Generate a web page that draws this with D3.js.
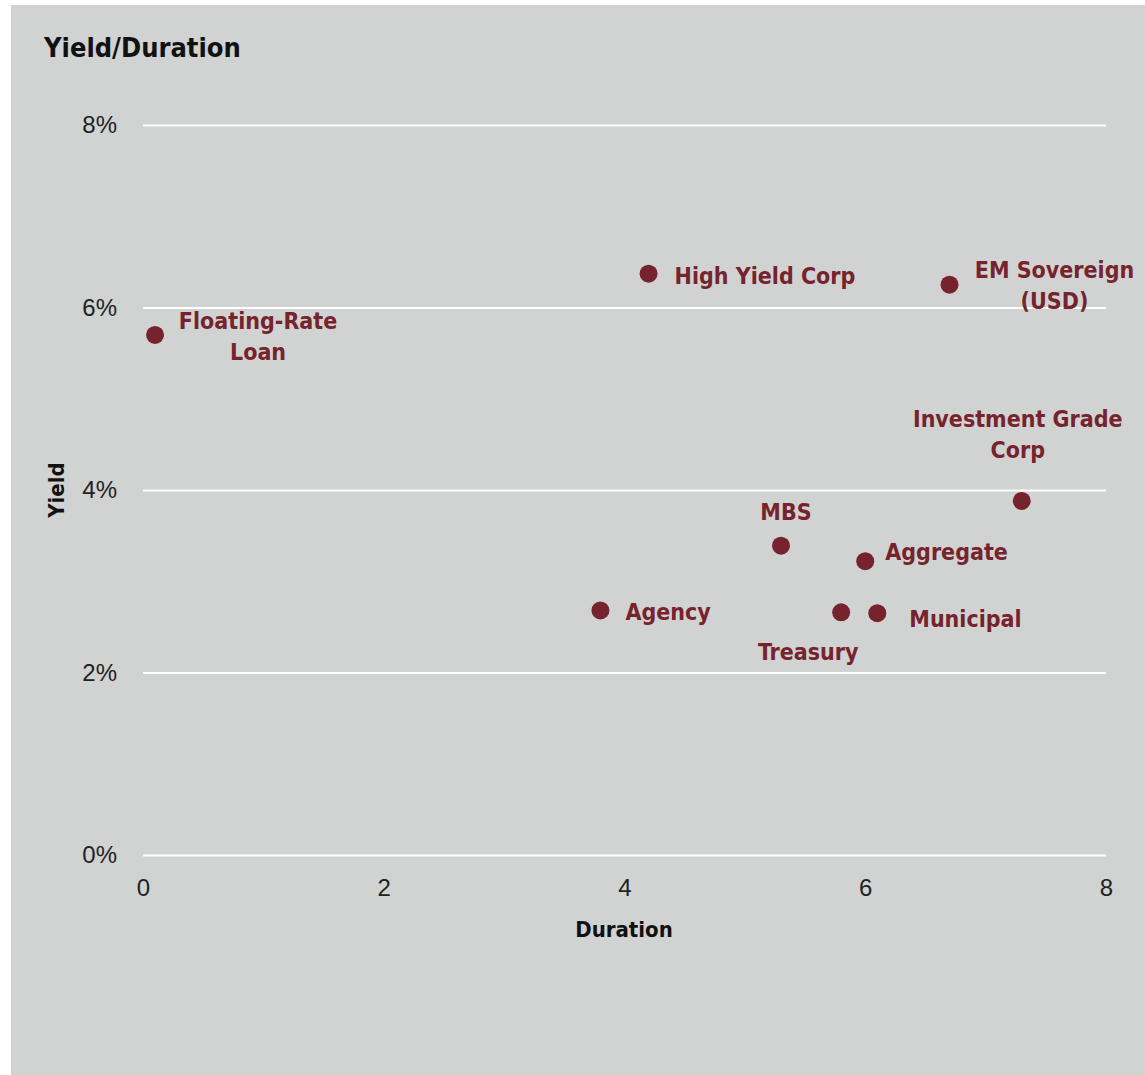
<!DOCTYPE html>
<html>
<head>
<meta charset="utf-8">
<script src="https://cdn.jsdelivr.net/npm/d3@7"></script>
<style>
  body { margin: 0; background: #fff; }
  svg { display: block; }
</style>
</head>
<body>
<svg id="chart"></svg>
<script>
// data
var names = ["Floating-Rate Loan", "High Yield Corp", "EM Sovereign (USD)", "Investment Grade Corp",
             "MBS", "Aggregate", "Agency", "Treasury", "Municipal"];
var duration = [0.1, 4.2, 6.7, 7.3, 5.3, 6.0, 3.8, 5.8, 6.1];
var yieldPct = [5.70, 6.37, 6.25, 3.88, 3.39, 3.22, 2.68, 2.66, 2.65];
var xTicks = [0, 2, 4, 6, 8];
var yTicks = [0, 2, 4, 6, 8];

// label placement: lines, offset from point, anchor
var labelPlace = [
  {lines: ["Floating-Rate", "Loan"], dx: 103, dy: -6, anchor: "middle"},
  {lines: ["High Yield Corp"], dx: 26, dy: 10, anchor: "start"},
  {lines: ["EM Sovereign", "(USD)"], dx: 105, dy: -7, anchor: "middle"},
  {lines: ["Investment Grade", "Corp"], dx: -4, dy: -74, anchor: "middle"},
  {lines: ["MBS"], dx: 5, dy: -26, anchor: "middle"},
  {lines: ["Aggregate"], dx: 20, dy: -1, anchor: "start"},
  {lines: ["Agency"], dx: 25, dy: 10, anchor: "start"},
  {lines: ["Treasury"], dx: -33, dy: 48, anchor: "middle"},
  {lines: ["Municipal"], dx: 32, dy: 14, anchor: "start"}
];

var W = 1145, H = 1075;
var condensed = "'Liberation Sans Narrow', 'DejaVu Sans Condensed', sans-serif";

var svg = d3.select("#chart").attr("width", W).attr("height", H);

svg.append("rect")
  .attr("x", 11).attr("y", 5)
  .attr("width", W - 11).attr("height", H - 5)
  .attr("fill", "#d1d3d2");

var x = d3.scaleLinear().domain([0, 8]).range([143, 1106]);
var y = d3.scaleLinear().domain([0, 8]).range([855, 125]);

// title
svg.append("text")
  .text("Yield/Duration")
  .attr("x", 44).attr("y", 57)
  .style("font", "bold 27px " + condensed)
  .attr("fill", "#111");

// gridlines + y tick labels
var yAxis = d3.axisLeft(y).tickValues(yTicks)
  .tickSize(-(1106 - 143)).tickPadding(26)
  .tickFormat(function(d) { return d + "%"; });

var gy = svg.append("g").attr("transform", "translate(143,0)").call(yAxis);
gy.select(".domain").remove();
gy.selectAll(".tick line").attr("stroke", "#fff").attr("stroke-width", 2);
gy.selectAll(".tick text")
  .style("font", "24px 'Liberation Sans', Arial, sans-serif")
  .attr("fill", "#222");

// x tick labels
var xAxis = d3.axisBottom(x).tickValues(xTicks).tickSize(0).tickPadding(24)
  .tickFormat(d3.format("d"));
var gx = svg.append("g").attr("transform", "translate(0,855)").call(xAxis);
gx.select(".domain").remove();
gx.selectAll(".tick text")
  .style("font", "24px 'Liberation Sans', Arial, sans-serif")
  .attr("fill", "#222");

// axis titles
svg.append("text")
  .text("Duration")
  .attr("x", 624).attr("y", 937)
  .attr("text-anchor", "middle")
  .style("font", "bold 22px " + condensed)
  .attr("fill", "#111");

svg.append("text")
  .text("Yield")
  .attr("text-anchor", "middle")
  .attr("transform", "translate(64,490)rotate(-90)")
  .style("font", "bold 22px " + condensed)
  .attr("fill", "#111");

// points
var pts = names.map(function(n, i) {
  return {name: n, x: duration[i], y: yieldPct[i], lab: labelPlace[i]};
});

svg.append("g").selectAll("circle")
  .data(pts)
  .enter()
  .append("circle")
    .attr("cx", function(d) { return x(d.x); })
    .attr("cy", function(d) { return y(d.y); })
    .attr("r", 9)
    .attr("fill", "#76232d");

var labels = svg.append("g").selectAll("text")
  .data(pts)
  .enter()
  .append("text")
    .attr("text-anchor", function(d) { return d.lab.anchor; })
    .attr("transform", function(d) {
      return "translate(" + (x(d.x) + d.lab.dx) + "," + (y(d.y) + d.lab.dy) + ")";
    })
    .style("font", "bold 23px " + condensed)
    .attr("fill", "#76232d");

labels.each(function(d) {
  var t = d3.select(this);
  d.lab.lines.forEach(function(line, k) {
    t.append("tspan").attr("x", 0).attr("y", k * 31).text(line);
  });
});
</script>
</body>
</html>
